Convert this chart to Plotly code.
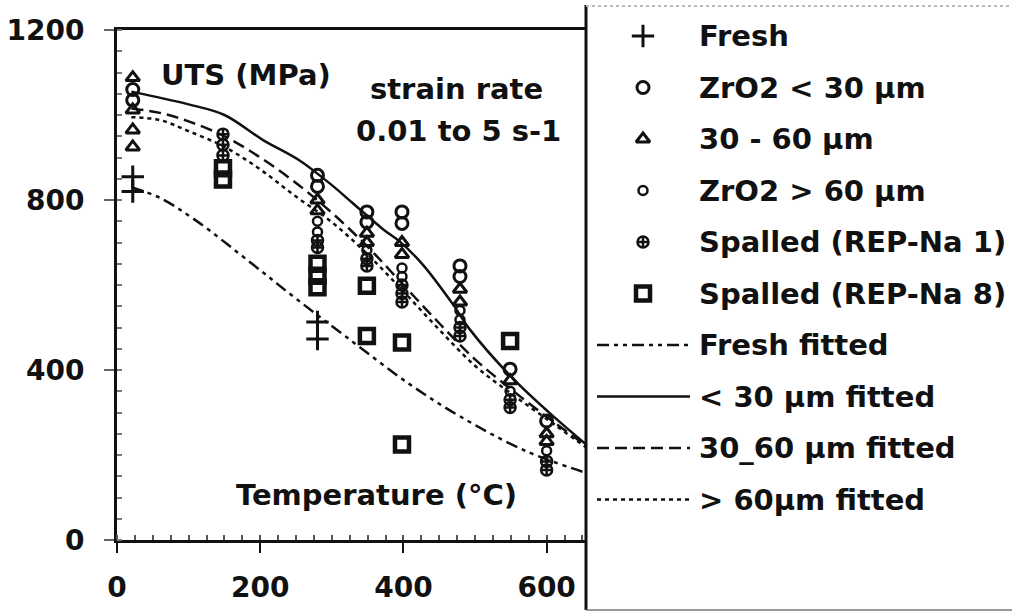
import plotly.graph_objects as go

W, H = 1012, 613
FONT = "DejaVu Sans"
INK = "#111111"

# ---- measured tensile strength (temperature in °C, UTS in MPa) ----
fresh_T = [22, 22, 280, 280]
fresh_uts = [855, 820, 513, 473]

lt30_T = [22, 22, 280, 280, 349, 349, 398, 398, 479, 479, 549, 600]
lt30_uts = [1060, 1035, 858, 832, 772, 748, 772, 745, 645, 620, 402, 280]

mid_T = [22, 22, 22, 22, 280, 280, 349, 349, 398, 398, 479, 479, 549, 600, 600]
mid_uts = [1088, 1012, 965, 925, 800, 775, 722, 700, 700, 672, 590, 560, 375, 250, 232]

gt60_T = [280, 280, 349, 398, 398, 479, 479, 549, 600]
gt60_uts = [750, 725, 682, 640, 620, 540, 518, 350, 210]

sp1_T = [148, 148, 148, 280, 280, 349, 349, 398, 398, 398, 479, 479, 549, 549, 600, 600]
sp1_uts = [955, 930, 905, 705, 688, 662, 645, 600, 580, 560, 500, 480, 330, 312, 185, 165]

sp8_T = [148, 148, 280, 280, 280, 349, 349, 398, 398, 549]
sp8_uts = [875, 848, 650, 622, 595, 598, 480, 465, 225, 468]

# ---- fitted curves ----
fit_fresh_T = [20, 60, 110, 190, 250, 320, 410, 480, 570, 655]
fit_fresh_uts = [830, 805, 752, 648, 568, 478, 365, 290, 210, 158]

fit_lt30_T = [20, 100, 150, 204, 254, 300, 329, 371, 395, 427, 469, 493, 550, 604, 655]
fit_lt30_uts = [1055, 1025, 1000, 941, 894, 835, 793, 732, 702, 648, 555, 495, 385, 299, 225]

fit_mid_T = [20, 60, 100, 150, 200, 250, 300, 350, 400, 450, 500, 550, 600, 655]
fit_mid_uts = [1015, 1005, 985, 950, 900, 840, 770, 690, 600, 510, 425, 355, 290, 222]

fit_gt60_T = [20, 60, 100, 150, 200, 250, 300, 350, 400, 450, 500, 550, 600, 655]
fit_gt60_uts = [995, 988, 962, 925, 872, 808, 748, 672, 585, 495, 410, 345, 285, 218]

x_ticks = [0, 200, 400, 600]
y_ticks = [0, 400, 800, 1200]

legend_labels = [
    "Fresh", "ZrO2 < 30 µm", "30 - 60 µm", "ZrO2 > 60 µm",
    "Spalled (REP-Na 1)", "Spalled (REP-Na 8)",
    "Fresh fitted", "< 30 µm fitted", "30_60 µm fitted", "> 60µm fitted",
]

# marker / line styles shared by the plot and the key
marker_styles = [
    dict(symbol="cross-thin", size=16, line=dict(width=3, color=INK)),
    dict(symbol="circle-open", size=12, line=dict(width=3, color=INK)),
    dict(symbol="triangle-up-open", size=12, line=dict(width=3, color=INK)),
    dict(symbol="circle-open", size=9, line=dict(width=2.5, color=INK)),
    dict(symbol="circle-cross-open", size=11, line=dict(width=2.5, color=INK)),
    dict(symbol="square-open", size=14, line=dict(width=4.5, color=INK)),
]
line_styles = [
    dict(color=INK, width=2.5, dash="12px,5px,4px,5px,4px,5px"),
    dict(color=INK, width=2.5),
    dict(color=INK, width=2.5, dash="12px,6px"),
    dict(color=INK, width=2.5, dash="4px,4px"),
]

point_sets = [
    (fresh_T, fresh_uts), (lt30_T, lt30_uts), (mid_T, mid_uts),
    (gt60_T, gt60_uts), (sp1_T, sp1_uts), (sp8_T, sp8_uts),
]
fit_sets = [
    (fit_fresh_T, fit_fresh_uts), (fit_lt30_T, fit_lt30_uts),
    (fit_mid_T, fit_mid_uts), (fit_gt60_T, fit_gt60_uts),
]

fig = go.Figure()

for (t, u), ls, name in zip(fit_sets, line_styles, legend_labels[6:]):
    fig.add_trace(go.Scatter(x=t, y=u, mode="lines", line=dict(shape="spline", **ls),
                             name=name, showlegend=False))

for (t, u), ms, name in zip(point_sets, marker_styles, legend_labels[:6]):
    fig.add_trace(go.Scatter(x=t, y=u, mode="markers", marker=dict(color=INK, **ms),
                             name=name, showlegend=False))

# ---- key drawn on its own pixel-scaled axes to the right of the plot ----
key_left, key_right = 586, W
row0, row_step = 36, 51.5
sym_x, line_x0, line_x1, text_x = 643, 597, 690, 697

for i, name in enumerate(legend_labels):
    y = row0 + i * row_step
    if i < 6:
        fig.add_trace(go.Scatter(x=[sym_x], y=[y], mode="markers",
                                 marker=dict(color=INK, **marker_styles[i]),
                                 xaxis="x2", yaxis="y2", showlegend=False, hoverinfo="skip"))
    else:
        fig.add_trace(go.Scatter(x=[line_x0, line_x1], y=[y, y], mode="lines",
                                 line=line_styles[i - 6],
                                 xaxis="x2", yaxis="y2", showlegend=False, hoverinfo="skip"))
    fig.add_annotation(x=text_x, y=y, xref="x2", yref="y2", text=name, showarrow=False,
                       xanchor="left", yanchor="middle",
                       font=dict(family=FONT, size=29, color=INK, weight="bold"))

tick_font = dict(family=FONT, size=28, color=INK, weight="bold")
note_font = dict(family=FONT, size=29, color=INK, weight="bold")


def note(px, py, text):
    """Centered text placed by figure pixel position."""
    return dict(x=px / W, y=1 - py / H, xref="paper", yref="paper", text=text,
                showarrow=False, xanchor="center", yanchor="middle", font=note_font)


fig.update_layout(
    template="none",
    width=W, height=H,
    margin=dict(l=0, r=0, t=0, b=0, autoexpand=False),
    paper_bgcolor="white", plot_bgcolor="white",
    showlegend=False,
    xaxis=dict(domain=[117 / W, key_left / W], range=[0, 655], automargin=False,
               tickvals=x_ticks, ticks="outside", ticklen=10, tickwidth=2, tickcolor=INK,
               showline=True, linewidth=3, linecolor=INK, mirror=True,
               showgrid=False, zeroline=False, tickfont=tick_font, ticklabelstandoff=10,
               minor=dict(dtick=25, ticks="inside", ticklen=5, tickwidth=1.5, tickcolor="#555")),
    yaxis=dict(domain=[(H - 540) / H, (H - 30) / H], range=[0, 1200], automargin=False,
               tickvals=y_ticks, ticks="outside", ticklen=10, tickwidth=2, tickcolor="#666",
               showline=True, linewidth=3, linecolor=INK,
               showgrid=False, zeroline=False, tickfont=tick_font, ticklabelstandoff=14,
               minor=dict(dtick=50, ticks="inside", ticklen=5, tickwidth=1.5, tickcolor="#777")),
    xaxis2=dict(domain=[key_left / W, 1], range=[key_left, key_right], anchor="y2",
                visible=False, fixedrange=True, automargin=False),
    yaxis2=dict(domain=[0, 1], range=[H, 0], anchor="x2", visible=False, fixedrange=True,
                automargin=False),
    shapes=[
        dict(type="line", xref="paper", yref="paper", x0=key_left / W, x1=key_left / W,
             y0=1 - 5 / H, y1=1 - 610 / H, line=dict(color=INK, width=3)),
        dict(type="line", xref="paper", yref="paper", x0=key_left / W, x1=1,
             y0=1 - 610 / H, y1=1 - 610 / H, line=dict(color="#777", width=1.5)),
        dict(type="line", xref="paper", yref="paper", x0=key_left / W, x1=1,
             y0=1 - 6 / H, y1=1 - 6 / H, line=dict(color="#bbb", width=2, dash="dot")),
    ],
    annotations=list(fig.layout.annotations) + [
        note(246, 75, "UTS (MPa)"),
        note(456, 89, "strain rate"),
        note(458, 131, "0.01 to 5 s-1"),
        note(376, 495, "Temperature (°C)"),
    ],
)

fig.write_html("out.html")
